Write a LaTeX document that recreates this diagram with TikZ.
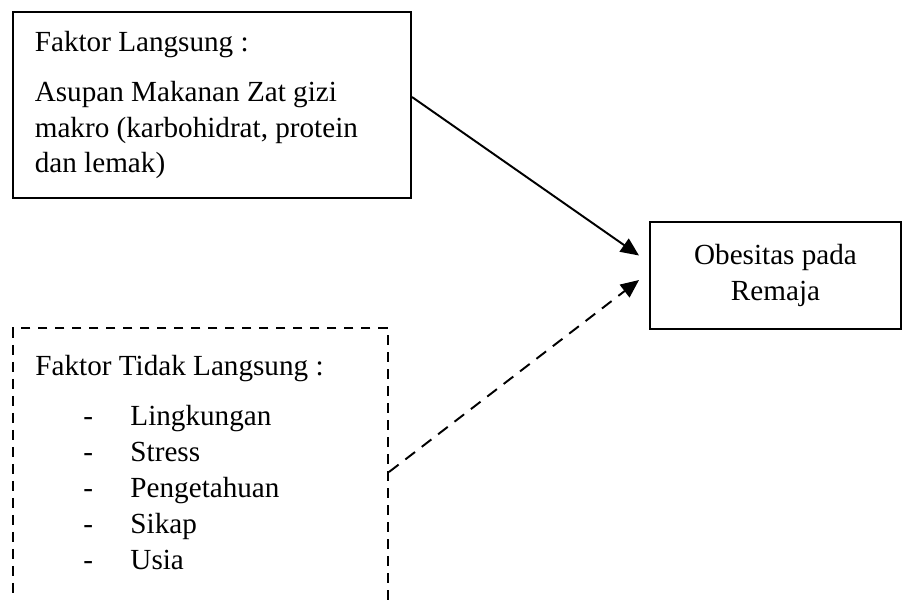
\documentclass[tikz,border=0pt]{standalone}
\usepackage{fontspec}
\setmainfont{Liberation Serif}
\usetikzlibrary{arrows.meta,calc}

\begin{document}
\begin{tikzpicture}[x=0.4115pt, y=-0.4115pt,
  font=\fontsize{12}{14.6}\selectfont,
  kotak/.style={draw, line width=0.8pt, rectangle},
  panah/.style={-{Triangle[length=7.5pt,width=6.5pt]}, line width=0.8pt}]
\useasboundingbox (0,0) rectangle (923,599);
\node[kotak, minimum width=163.8pt, minimum height=76.5pt, text width=145.8pt,
  inner xsep=9pt, inner ysep=0pt, align=flush left] (langsung) at (212,105)
  {Faktor Langsung :\\[6pt] Asupan Makanan Zat gizi\\ makro (karbohidrat, protein\\ dan lemak)};
\node[kotak, minimum width=103.3pt, minimum height=44pt, align=center] (obesitas) at (775.5,275.5)
  {Obesitas pada\\ Remaja};
\node[kotak, dash pattern=on 4pt off 3pt, minimum width=154.3pt, minimum height=118.5pt] (tidak) at (200.5,472) {};
\node[anchor=base west, inner sep=0pt] (judul) at (35,375) {Faktor Tidak Langsung :};
\foreach \nama [count=\i] in {Lingkungan,Stress,Pengetahuan,Sikap,Usia} {
  \node[anchor=base west, inner sep=0pt] (strip\i) at (83,{425+36*(\i-1)}) {-};
  \node[anchor=base west, inner sep=0pt] (faktor\i) at (130,{425+36*(\i-1)}) {\nama};
}
\coordinate (ujungA) at ($(obesitas.west)+(-10,-20)$);
\coordinate (ujungB) at ($(obesitas.west)+(-10,4.5)$);
\draw[panah] ($(langsung.east)+(0,-8)$) -- (ujungA);
\draw[panah, dash pattern=on 5pt off 3.5pt] (tidak.east) -- (ujungB);
\end{tikzpicture}
\end{document}
